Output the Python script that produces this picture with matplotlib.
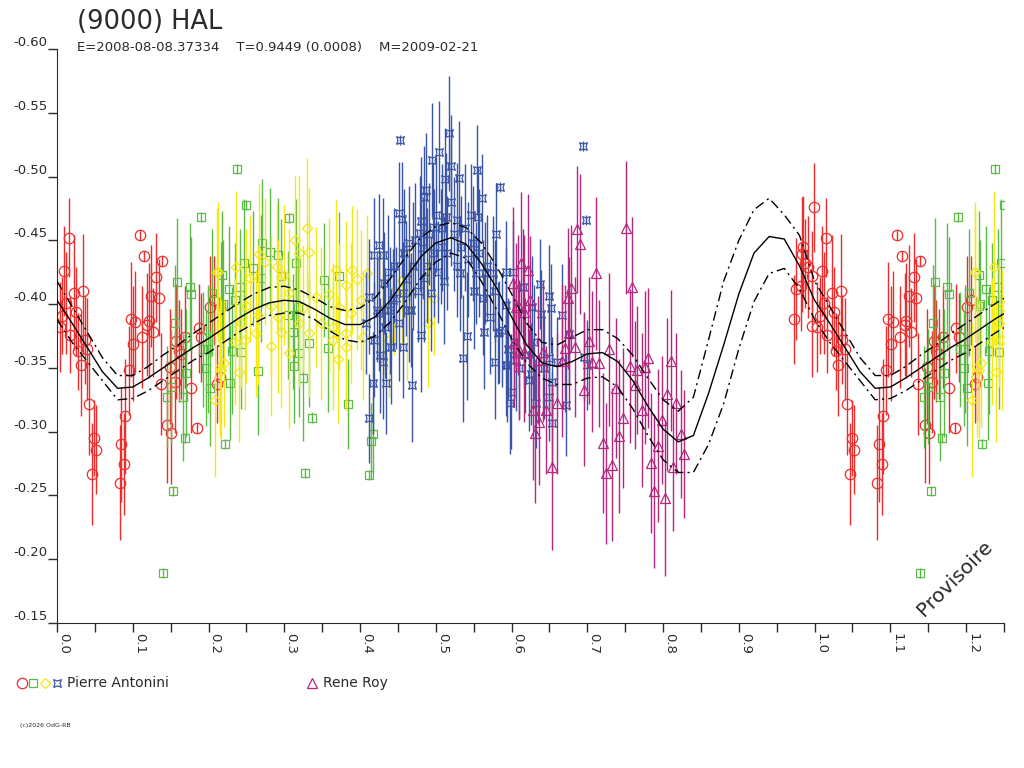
import numpy as np
import matplotlib.pyplot as plt
from matplotlib.lines import Line2D

plt.rcParams['font.family'] = ['DejaVu Sans']

# phase, reduced magnitude, error  -- Pierre Antonini (4 sessions) and Rene Roy
red = np.array([
    [0.0154, -0.452, 0.031], [0.0093, -0.426, 0.035], [0.0124, -0.401, 0.040], [0.0036, -0.382, 0.035],
    [0.0066, -0.391, 0.030], [0.0225, -0.409, 0.045], [0.0343, -0.410, 0.045], [0.0255, -0.394, 0.035],
    [0.0167, -0.376, 0.030], [0.0277, -0.363, 0.030], [0.0365, -0.372, 0.035], [0.0400, -0.365, 0.040],
    [0.0313, -0.352, 0.040], [0.0422, -0.322, 0.040], [0.0488, -0.295, 0.030], [0.0519, -0.286, 0.035],
    [0.0462, -0.267, 0.040], [0.1090, -0.454, 0.004], [0.1148, -0.438, 0.004], [0.1390, -0.434, 0.004],
    [0.1310, -0.421, 0.035], [0.1244, -0.406, 0.040], [0.1340, -0.405, 0.030], [0.0972, -0.388, 0.045],
    [0.1033, -0.386, 0.040], [0.1213, -0.387, 0.045], [0.1192, -0.384, 0.040], [0.1266, -0.378, 0.035],
    [0.1121, -0.374, 0.040], [0.1003, -0.369, 0.045], [0.0945, -0.348, 0.035], [0.0901, -0.312, 0.045],
    [0.0849, -0.290, 0.045], [0.0884, -0.275, 0.040], [0.0827, -0.260, 0.045], [0.1367, -0.337, 0.040],
    [0.1455, -0.305, 0.045], [0.1508, -0.299, 0.040], [0.1574, -0.371, 0.045], [0.1605, -0.363, 0.040],
    [0.1640, -0.361, 0.035], [0.1486, -0.351, 0.045], [0.1552, -0.339, 0.040], [0.1772, -0.334, 0.035],
    [0.1851, -0.303, 0.004], [0.1868, -0.381, 0.035], [0.1904, -0.374, 0.035], [0.2013, -0.398, 0.040],
    [0.2071, -0.403, 0.035], [0.2145, -0.343, 0.035], [0.2115, -0.337, 0.030], [0.1693, -0.374, 0.040],
    [0.9850, -0.445, 0.040], [0.9837, -0.439, 0.045], [0.9873, -0.432, 0.035], [0.9916, -0.429, 0.040],
    [0.9960, -0.422, 0.035], [0.9757, -0.412, 0.040], [0.9815, -0.414, 0.035], [0.9727, -0.388, 0.035],
    [0.9969, -0.383, 0.040], [0.9995, -0.476, 0.035],
])

green = np.array([
    [0.1895, -0.4685, 0.004], [0.1587, -0.4176, 0.050], [0.1750, -0.4132, 0.050], [0.1772, -0.4079, 0.045],
    [0.1561, -0.3855, 0.045], [0.2044, -0.4090, 0.050], [0.2167, -0.3985, 0.050], [0.1925, -0.3646, 0.045],
    [0.1991, -0.3646, 0.050], [0.1970, -0.3497, 0.045], [0.1706, -0.3462, 0.050], [0.1499, -0.3353, 0.045],
    [0.1450, -0.3269, 0.040], [0.1661, -0.3269, 0.050], [0.2013, -0.3340, 0.045], [0.1684, -0.2948, 0.004],
    [0.1530, -0.2537, 0.004], [0.2211, -0.2903, 0.004], [0.2378, -0.5057, 0.004], [0.2497, -0.4777, 0.004],
    [0.3059, -0.4672, 0.004], [0.2708, -0.4477, 0.050], [0.2813, -0.4411, 0.050], [0.2914, -0.4385, 0.045],
    [0.3156, -0.4325, 0.050], [0.2462, -0.4325, 0.050], [0.2585, -0.4281, 0.045], [0.2176, -0.4228, 0.050],
    [0.2418, -0.4137, 0.045], [0.2264, -0.4116, 0.050], [0.2695, -0.4202, 0.050], [0.2343, -0.4032, 0.045],
    [0.2189, -0.4001, 0.050], [0.3521, -0.4189, 0.045], [0.3728, -0.4220, 0.050], [0.2959, -0.4220, 0.045],
    [0.3178, -0.3980, 0.050], [0.3046, -0.3915, 0.050], [0.3332, -0.3693, 0.050], [0.3112, -0.3784, 0.045],
    [0.2308, -0.3635, 0.050], [0.3573, -0.3654, 0.050], [0.2431, -0.3627, 0.045], [0.3200, -0.3614, 0.050],
    [0.3134, -0.3515, 0.045], [0.2650, -0.3476, 0.050], [0.3244, -0.3423, 0.050], [0.2286, -0.3384, 0.045],
    [0.3837, -0.3217, 0.035], [0.3368, -0.3111, 0.004], [0.3279, -0.2674, 0.004], [0.4114, -0.2660, 0.004],
    [0.4145, -0.2927, 0.030], [0.4176, -0.2982, 0.030], [0.1394, -0.1892, 0.004],
])

yellow = np.array([
    [0.3297, -0.4599, 0.055], [0.3143, -0.4503, 0.050], [0.3200, -0.4403, 0.060], [0.3332, -0.4411, 0.050],
    [0.2664, -0.4390, 0.055], [0.2752, -0.4333, 0.050], [0.2366, -0.4289, 0.060], [0.2123, -0.4254, 0.055],
    [0.2901, -0.4293, 0.050], [0.3002, -0.4228, 0.055], [0.2541, -0.4202, 0.050], [0.3684, -0.4267, 0.055],
    [0.3895, -0.4267, 0.050], [0.4088, -0.4246, 0.045], [0.3956, -0.4194, 0.055], [0.3816, -0.4150, 0.050],
    [0.3587, -0.4079, 0.060], [0.3420, -0.4058, 0.055], [0.3068, -0.4085, 0.050], [0.2827, -0.3985, 0.055],
    [0.2497, -0.3985, 0.060], [0.3244, -0.3967, 0.050], [0.4014, -0.4032, 0.055], [0.3728, -0.3980, 0.050],
    [0.3882, -0.3928, 0.055], [0.2914, -0.3902, 0.060], [0.3200, -0.3850, 0.050], [0.2650, -0.3915, 0.055],
    [0.2431, -0.3850, 0.050], [0.3486, -0.3850, 0.060], [0.3639, -0.3824, 0.050], [0.3816, -0.3771, 0.055],
    [0.2629, -0.3771, 0.050], [0.2480, -0.3720, 0.055], [0.2959, -0.3784, 0.060], [0.3332, -0.3771, 0.050],
    [0.3639, -0.3719, 0.055], [0.2343, -0.3706, 0.050], [0.4035, -0.3745, 0.050], [0.2827, -0.3672, 0.055],
    [0.3816, -0.3666, 0.050], [0.3068, -0.3619, 0.060], [0.3706, -0.3567, 0.050], [0.2400, -0.3470, 0.055],
    [0.2198, -0.3536, 0.050], [0.2167, -0.3484, 0.055], [0.2079, -0.3248, 0.060], [0.2115, -0.4254, 0.050],
    [0.2145, -0.3510, 0.055], [0.4560, -0.4190, 0.050], [0.4620, -0.3950, 0.055], [0.4450, -0.4100, 0.050],
    [0.4380, -0.3720, 0.045], [0.4300, -0.3950, 0.050], [0.4980, -0.4050, 0.045], [0.4900, -0.3850, 0.050],
])

blue = np.array([
    [0.4528, -0.5287, 0.004], [0.5178, -0.5339, 0.045], [0.5046, -0.5195, 0.040], [0.4949, -0.5130, 0.045],
    [0.5200, -0.5083, 0.040], [0.5538, -0.5051, 0.035], [0.5301, -0.4986, 0.045], [0.5125, -0.4978, 0.040],
    [0.4870, -0.4895, 0.045], [0.4848, -0.4842, 0.040], [0.5609, -0.4829, 0.035], [0.5846, -0.4916, 0.004],
    [0.4510, -0.4712, 0.040], [0.4554, -0.4665, 0.045], [0.5552, -0.4686, 0.040], [0.5134, -0.4686, 0.050],
    [0.5275, -0.4660, 0.045], [0.5332, -0.4450, 0.040], [0.5793, -0.4550, 0.040], [0.4967, -0.4607, 0.050],
    [0.4791, -0.4555, 0.045], [0.4255, -0.4463, 0.040], [0.4642, -0.4477, 0.045], [0.4826, -0.4437, 0.040],
    [0.4299, -0.4385, 0.045], [0.5653, -0.4247, 0.040], [0.5319, -0.4241, 0.045], [0.5112, -0.4184, 0.050],
    [0.5530, -0.4247, 0.040], [0.5749, -0.4241, 0.045], [0.5925, -0.4254, 0.040], [0.4189, -0.4385, 0.045],
    [0.4321, -0.4163, 0.040], [0.4123, -0.4058, 0.045], [0.4848, -0.4202, 0.050], [0.4936, -0.4085, 0.045],
    [0.4431, -0.4032, 0.040], [0.4255, -0.3928, 0.045], [0.4673, -0.3954, 0.045], [0.5407, -0.3750, 0.050],
    [0.5639, -0.3784, 0.045], [0.5815, -0.3776, 0.040], [0.4804, -0.3758, 0.045], [0.4563, -0.3666, 0.040],
    [0.4409, -0.3666, 0.045], [0.5354, -0.3575, 0.050], [0.5785, -0.3549, 0.045], [0.5925, -0.3523, 0.040],
    [0.4299, -0.3549, 0.045], [0.4343, -0.3379, 0.040], [0.4686, -0.3366, 0.045], [0.4167, -0.3379, 0.040],
    [0.5991, -0.3314, 0.045], [0.5978, -0.3222, 0.040], [0.4123, -0.3105, 0.035], [0.4079, -0.3849, 0.040],
    [0.5068, -0.4450, 0.045], [0.5486, -0.4477, 0.045], [0.4563, -0.4085, 0.040], [0.6949, -0.5240, 0.004],
    [0.6980, -0.4660, 0.004], [0.6013, -0.4254, 0.040], [0.6374, -0.4158, 0.035], [0.6488, -0.4064, 0.040],
    [0.6519, -0.3967, 0.035], [0.6672, -0.3915, 0.040], [0.6387, -0.3920, 0.035], [0.6760, -0.3766, 0.040],
    [0.6268, -0.3980, 0.040], [0.6145, -0.4137, 0.045], [0.5925, -0.3993, 0.045], [0.5837, -0.3784, 0.040],
    [0.6958, -0.3588, 0.035], [0.5934, -0.3523, 0.045], [0.6057, -0.3562, 0.040], [0.7002, -0.3523, 0.035],
    [0.6497, -0.3575, 0.040], [0.6233, -0.3405, 0.040], [0.6540, -0.3392, 0.035], [0.6716, -0.3209, 0.040],
    [0.6497, -0.3274, 0.035], [0.6540, -0.3071, 0.040], [0.6321, -0.3222, 0.035],
    [0.4180, -0.3720, 0.045], [0.4220, -0.3950, 0.040], [0.4270, -0.3600, 0.045], [0.4330, -0.3820, 0.040],
    [0.4370, -0.4250, 0.045], [0.4400, -0.3950, 0.050], [0.4450, -0.4300, 0.045], [0.4480, -0.4050, 0.040],
    [0.4520, -0.3850, 0.045], [0.4580, -0.4400, 0.050], [0.4610, -0.4200, 0.045], [0.4650, -0.3950, 0.040],
    [0.4700, -0.4300, 0.050], [0.4730, -0.4500, 0.045], [0.4760, -0.4100, 0.040], [0.4800, -0.4650, 0.050],
    [0.4880, -0.4300, 0.045], [0.4910, -0.4550, 0.040], [0.4970, -0.4400, 0.050], [0.5000, -0.4700, 0.045],
    [0.5030, -0.4250, 0.040], [0.5080, -0.4600, 0.050], [0.5150, -0.4400, 0.045], [0.5200, -0.4800, 0.050],
    [0.5240, -0.4550, 0.045], [0.5280, -0.4300, 0.040], [0.5380, -0.4600, 0.050], [0.5430, -0.4350, 0.045],
    [0.5460, -0.4700, 0.040], [0.5500, -0.4100, 0.045], [0.5570, -0.4400, 0.050], [0.5620, -0.4050, 0.045],
    [0.5680, -0.4300, 0.040], [0.5720, -0.3900, 0.045], [0.5780, -0.4100, 0.040], [0.5880, -0.3800, 0.045],
    [0.5950, -0.3650, 0.040], [0.6030, -0.3700, 0.045], [0.6100, -0.3500, 0.040], [0.6180, -0.3600, 0.045],
    [0.6250, -0.3450, 0.040], [0.6300, -0.3700, 0.045], [0.6430, -0.3500, 0.040], [0.6600, -0.3550, 0.035],
])

purple = np.array([
    [0.6123, -0.4325, 0.055], [0.6022, -0.4163, 0.060], [0.6057, -0.3980, 0.050], [0.6167, -0.3627, 0.055],
    [0.6211, -0.4267, 0.060], [0.6079, -0.3993, 0.055], [0.6242, -0.4032, 0.050], [0.6167, -0.3941, 0.060],
    [0.6782, -0.4124, 0.050], [0.6751, -0.4045, 0.055], [0.6870, -0.4586, 0.050], [0.6905, -0.4469, 0.055],
    [0.7121, -0.4241, 0.060], [0.7508, -0.4599, 0.052], [0.7595, -0.4132, 0.055], [0.6760, -0.3771, 0.060],
    [0.6839, -0.3666, 0.055], [0.6708, -0.3653, 0.050], [0.6672, -0.3557, 0.060], [0.6409, -0.3627, 0.055],
    [0.7024, -0.3713, 0.050], [0.7288, -0.3646, 0.060], [0.7068, -0.3549, 0.055], [0.7156, -0.3536, 0.050],
    [0.7560, -0.3515, 0.060], [0.7806, -0.3575, 0.055], [0.7661, -0.3484, 0.050], [0.7762, -0.3504, 0.060],
    [0.8101, -0.3557, 0.055], [0.6958, -0.3327, 0.060], [0.7384, -0.3340, 0.055], [0.7630, -0.3366, 0.050],
    [0.8057, -0.3293, 0.060], [0.8167, -0.3222, 0.055], [0.7718, -0.3170, 0.060], [0.7472, -0.3105, 0.055],
    [0.7982, -0.3092, 0.050], [0.7420, -0.2966, 0.060], [0.7209, -0.2909, 0.055], [0.8233, -0.2982, 0.050],
    [0.7938, -0.2888, 0.060], [0.8277, -0.2825, 0.050], [0.7837, -0.2757, 0.055], [0.7332, -0.2739, 0.060],
    [0.7244, -0.2673, 0.055], [0.8132, -0.2720, 0.050], [0.7881, -0.2535, 0.060], [0.8022, -0.2478, 0.061],
    [0.6540, -0.2726, 0.065], [0.6312, -0.2987, 0.055], [0.6356, -0.3078, 0.050], [0.6277, -0.3170, 0.055],
    [0.6453, -0.3170, 0.050], [0.6606, -0.3222, 0.055], [0.6343, -0.3562, 0.050], [0.6101, -0.3640, 0.055],
    [0.6035, -0.3693, 0.050],
])

# fitted lightcurve and its uncertainty envelope
fit_phase = [0.00, 0.02, 0.04, 0.06, 0.08, 0.10, 0.12, 0.14, 0.16, 0.18,
             0.20, 0.22, 0.24, 0.26, 0.28, 0.30, 0.32, 0.34, 0.36, 0.38,
             0.40, 0.42, 0.44, 0.46, 0.48, 0.50, 0.52, 0.54, 0.56, 0.58,
             0.60, 0.62, 0.64, 0.66, 0.68, 0.70, 0.72, 0.74, 0.76, 0.78,
             0.80, 0.82, 0.84, 0.86, 0.88, 0.90, 0.92, 0.94, 0.96, 0.98]
fit_mag = [-0.403, -0.385, -0.366, -0.347, -0.334, -0.335, -0.342, -0.350, -0.358, -0.366,
           -0.373, -0.381, -0.389, -0.396, -0.401, -0.403, -0.402, -0.396, -0.389, -0.384,
           -0.384, -0.390, -0.403, -0.420, -0.437, -0.448, -0.452, -0.447, -0.432, -0.413,
           -0.390, -0.368, -0.354, -0.351, -0.355, -0.361, -0.362, -0.355, -0.340, -0.320,
           -0.302, -0.292, -0.297, -0.330, -0.368, -0.408, -0.440, -0.453, -0.451, -0.430]
fit_hi = [-0.418, -0.398, -0.378, -0.358, -0.344, -0.344, -0.351, -0.360, -0.368, -0.377,
          -0.385, -0.393, -0.401, -0.408, -0.413, -0.414, -0.411, -0.405, -0.398, -0.395,
          -0.397, -0.405, -0.420, -0.437, -0.452, -0.461, -0.464, -0.460, -0.448, -0.430,
          -0.408, -0.385, -0.370, -0.368, -0.374, -0.380, -0.380, -0.373, -0.360, -0.342,
          -0.325, -0.316, -0.327, -0.372, -0.418, -0.450, -0.474, -0.483, -0.470, -0.454]
fit_lo = [-0.388, -0.370, -0.355, -0.340, -0.325, -0.326, -0.332, -0.340, -0.348, -0.356,
          -0.362, -0.370, -0.378, -0.385, -0.391, -0.393, -0.393, -0.388, -0.379, -0.372,
          -0.370, -0.375, -0.386, -0.402, -0.420, -0.433, -0.440, -0.436, -0.418, -0.396,
          -0.373, -0.354, -0.342, -0.337, -0.337, -0.342, -0.343, -0.335, -0.318, -0.297,
          -0.278, -0.268, -0.268, -0.290, -0.322, -0.365, -0.402, -0.424, -0.428, -0.412]

yticks = [-0.60, -0.55, -0.50, -0.45, -0.40, -0.35, -0.30, -0.25, -0.20, -0.15]
xticks = [0.0, 0.1, 0.2, 0.3, 0.4, 0.5, 0.6, 0.7, 0.8, 0.9, 1.0, 1.1, 1.2]

c_red, c_green, c_yellow, c_blue, c_purple = '#EE2C2C', '#5CBB46', '#F4E714', '#3B55A5', '#B3287F'
ink = '#2a2a2a'

# the little "¤" symbol used for the 4th session
cur = [(-1, -1), (0, -0.65), (1, -1), (0.65, 0), (1, 1), (0, 0.65), (-1, 1), (-0.65, 0), (-1, -1)]

fig = plt.figure(figsize=(10.24, 7.68), dpi=100)
ax = fig.add_axes([57 / 1024, 1 - 623 / 768, (1004 - 57) / 1024, (623 - 49) / 768])


def draw(data, color, marker, ms, z):
    ph, mg, er = data[:, 0], data[:, 1], data[:, 2]
    w = ph < 0.25
    ph = np.concatenate([ph, ph[w] + 1])
    mg = np.concatenate([mg, mg[w]])
    er = np.concatenate([er, er[w]])
    ax.errorbar(ph, mg, yerr=er, fmt='none', ecolor=color, elinewidth=1.0, capsize=0, zorder=z)
    ax.plot(ph, mg, ls='none', marker=marker, ms=ms, mfc='none', mec=color, mew=0.9, zorder=z + 0.5)


draw(red, c_red, 'o', 7.5, 2)
draw(green, c_green, 's', 5.5, 3)
draw(yellow, c_yellow, 'D', 5.5, 4)
draw(blue, c_blue, cur, 5.5, 5)
draw(purple, c_purple, '^', 7, 6)

# curve repeated past phase 1
fp = np.array(fit_phase)
wrap = fp <= 0.26
cx = np.concatenate([fp, fp[wrap] + 1])
for vals, ls in [(fit_mag, '-'), (fit_hi, (0, (7, 3, 1.5, 3))), (fit_lo, (0, (7, 3, 1.5, 3)))]:
    v = np.array(vals)
    ax.plot(cx, np.concatenate([v, v[wrap]]), color='black', lw=1.0, ls=ls, zorder=10)

ax.set_xlim(0, 1.25)
ax.set_ylim(-0.15, -0.60)
for s in ['top', 'right']:
    ax.spines[s].set_visible(False)
for s in ['left', 'bottom']:
    ax.spines[s].set_color(ink)
ax.set_yticks(yticks)
ax.set_yticklabels(['%.2f' % t for t in yticks])
ax.set_xticks(xticks)
ax.set_xticklabels(['%.1f' % t for t in xticks], rotation=270, ha='left', va='top')
ax.set_xticks(np.array(xticks) + 0.05, minor=True)
ax.tick_params(axis='both', which='both', direction='out', length=6.5, width=1, color=ink,
               labelcolor=ink, labelsize=9.5)
ax.tick_params(axis='x', which='both', pad=1)
ax.tick_params(axis='y', pad=0.5)
for lab in ax.get_yticklabels():
    lab.set_va('bottom')

fig.text(77 / 1024, 1 - 29 / 768, '(9000) HAL', fontsize=18.5, color=ink, va='baseline')
fig.text(77 / 1024, 1 - 51 / 768, 'E=2008-08-08.37334    T=0.9449 (0.0008)    M=2009-02-21',
         fontsize=9.5, color=ink, va='baseline')
fig.text(955 / 1024, 1 - 578 / 768, 'Provisoire', rotation=45, ha='center', va='center',
         fontsize=14.5, color=ink)

# legend
ly = 1 - 683 / 768
for x, mk, col, ms in [(22, 'o', c_red, 7.5), (33, 's', c_green, 5.5), (45, 'D', c_yellow, 5.5),
                       (57, cur, c_blue, 5.5), (312, '^', c_purple, 7)]:
    fig.add_artist(Line2D([x / 1024], [ly], transform=fig.transFigure, ls='none', marker=mk, ms=ms,
                          mfc='none', mec=col, mew=0.9))
fig.text(67 / 1024, ly, 'Pierre Antonini', fontsize=10, color=ink, va='center')
fig.text(323 / 1024, ly, 'Rene Roy', fontsize=10, color=ink, va='center')
fig.text(20 / 1024, 1 - 725 / 768, '(c)2026 OdG-RB', fontsize=4.5, color=ink, va='center')

fig.savefig('out.png', dpi=100)
